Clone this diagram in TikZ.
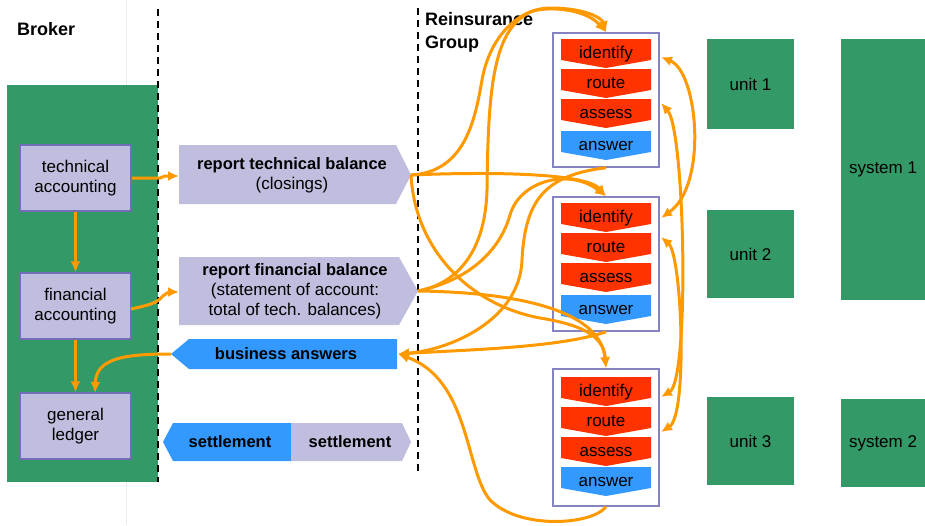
\documentclass[tikz,border=0pt]{standalone}
\usepackage{fontspec}
\setmainfont{Liberation Sans}
\usetikzlibrary{arrows.meta}
\definecolor{bgreen}{RGB}{51,153,102}
\definecolor{lav}{RGB}{192,190,222}
\definecolor{lavedge}{RGB}{112,110,182}
\definecolor{cred}{RGB}{255,51,0}
\definecolor{cblue}{RGB}{51,153,255}
\definecolor{corange}{RGB}{255,153,0}
\tikzset{
  txt/.style={font=\fontsize{17}{20}\selectfont, align=center, inner sep=0pt},
  btxt/.style={font=\bfseries\fontsize{16.5}{20}\selectfont, align=center, inner sep=0pt},
  head/.style={font=\bfseries\fontsize{18}{23}\selectfont, align=left, inner sep=0pt},
  accbox/.style={draw=lavedge, line width=1.5pt, fill=lav, minimum width=111pt, minimum height=66pt, inner sep=0pt, txt},
  pbox/.style={draw=lavedge!85, line width=1.5pt, fill=white, minimum width=106pt, inner sep=0pt},
  gbox/.style={fill=bgreen, inner sep=0pt, txt},
  flow/.style={draw=corange, line width=3pt, -{Latex[length=11pt,width=10pt]}},
  dflow/.style={draw=corange, line width=3pt, {Latex[length=11pt,width=10pt]}-{Latex[length=11pt,width=10pt]}},
  divider/.style={line width=1.8pt, dash pattern=on 7pt off 5pt},
  chevtext/.style={font=\fontsize{17}{20}\selectfont, inner sep=0pt, anchor=base}
}
\newcommand\mychev[4]{%
  \fill[#2] (561,#1) -- (651,#1) -- (651,#1+21) -- (606,#1+29) -- (561,#1+21) -- cycle;
  \node[chevtext] (#4) at (606,#1+19) {#3};}
\begin{document}
\begin{tikzpicture}[x=1pt,y=-1pt]
\useasboundingbox (0,0) rectangle (925,525);
\fill[white] (0,0) rectangle (925,525);
% faint guide and broker area
\draw[black!8, line width=1pt] (126,0) -- (126,525);
\fill[bgreen] (7,85) rectangle (158,482);
\draw[divider] (158,9) -- (158,482);
\draw[divider] (418,8) -- (418,474);
% headers
\node[head, anchor=base west] (broker) at (17,35) {Broker};
\node[head, anchor=base west] (reins) at (425,25) {Reinsurance};
\node[head, anchor=base west] (group) at (425,48) {Group};
% broker boxes
\node[accbox] (tech) at (75.5,178) {technical\\accounting};
\node[accbox] (fin) at (75.5,306) {financial\\accounting};
\node[accbox] (gl) at (75.5,426) {general\\ledger};
% message shapes
\fill[lav] (179,145) -- (396,145) -- (411,175) -- (396,204) -- (179,204) -- cycle;
\coordinate (rtb) at (411,175);
\node[txt] (rtbt) at (292,175) {{\bfseries\fontsize{16.5}{20}\selectfont report technical balance}\\(closings)};
\fill[lav] (179,257) -- (399,257) -- (418,291) -- (399,325) -- (179,325) -- cycle;
\coordinate (rfb) at (418,291);
\node[txt] (rfbt) at (295,291) {{\bfseries\fontsize{16.5}{20}\selectfont report financial balance}\\(statement of account:\\total of tech. balances)};
\fill[cblue] (171,354) -- (189,339) -- (397,339) -- (397,369) -- (189,369) -- cycle;
\coordinate (ba) at (398,354);
\coordinate (bal) at (171,354);
\node[btxt] (bat) at (286,354) {business answers};
\fill[cblue] (163,442) -- (173,423) -- (291,423) -- (291,461) -- (173,461) -- cycle;
\fill[lav] (291,423) -- (402,423) -- (411,442) -- (402,461) -- (291,461) -- cycle;
\node[btxt] (s1) at (230,442) {settlement};
\node[btxt] (s2) at (350,442) {settlement};
% process boxes
\node[pbox, minimum height=134pt] (p1) at (606,100) {};
\node[pbox, minimum height=134pt] (p2) at (606,264) {};
\node[pbox, minimum height=137pt] (p3) at (606,437.5) {};
\mychev{39}{cred}{identify}{id1}
\mychev{69}{cred}{route}{ro1}
\mychev{99}{cred}{assess}{as1}
\mychev{131}{cblue}{answer}{an1}
\mychev{203}{cred}{identify}{id2}
\mychev{233}{cred}{route}{ro2}
\mychev{263}{cred}{assess}{as2}
\mychev{295}{cblue}{answer}{an2}
\mychev{377}{cred}{identify}{id3}
\mychev{407}{cred}{route}{ro3}
\mychev{437}{cred}{assess}{as3}
\mychev{467}{cblue}{answer}{an3}
% units and systems
\node[gbox, minimum width=87pt, minimum height=90pt] (u1) at (750.5,84) {unit 1};
\node[gbox, minimum width=87pt, minimum height=88pt] (u2) at (750.5,254) {unit 2};
\node[gbox, minimum width=87pt, minimum height=88pt] (u3) at (750.5,441) {unit 3};
\node[gbox, minimum width=84pt, minimum height=261pt] (sy1) at (883,169.5) {system 1};
\node[gbox, minimum width=84pt, minimum height=88pt] (sy2) at (883,443) {system 2};
% connector end points at the process steps
\coordinate (e1) at (661,57);
\coordinate (e2) at (661,218);
\coordinate (e3) at (661,103);
\coordinate (e4) at (661,397);
\coordinate (e5) at (661,237);
\coordinate (e6) at (661,432);
% broker flows
\draw[flow] (tech.east) -- (160,178) -- (165,176) -- (179,176);
\draw[flow] (131,309) .. controls (150,305) and (155,303) .. (160,299) .. controls (165,293) and (170,292) .. (179,292);
\draw[flow] (tech.south) -- (fin.north);
\draw[flow] (fin.south) -- (gl.north);
\draw[flow] (bal) .. controls (125,354) and (96,358) .. (95,393);
% messages to process boxes
\draw[flow] (rtb) .. controls (465,172) and (475,120) .. (482,80) .. controls (490,35) and (520,8) .. (550,8) .. controls (585,8) and (602,18) .. (p1.north);
\draw[flow] (rfb) .. controls (450,285) and (485,260) .. (487,190) .. controls (488,80) and (495,30) .. (530,12) .. controls (545,6) and (585,8) .. (p1.north);
\draw[flow] (rtb) .. controls (480,172) and (585,172) .. (p2.north);
\draw[flow] (rfb) .. controls (470,280) and (500,250) .. (510,215) .. controls (520,180) and (570,168) .. (p2.north);
\draw[flow] (rtb) .. controls (415,250) and (470,305) .. (540,318) .. controls (590,326) and (604,340) .. (p3.north);
\draw[flow] (rfb) .. controls (500,292) and (600,305) .. (p3.north);
% answers back
\draw[flow] (p1.south) .. controls (545,175) and (525,200) .. (522,260) .. controls (520,320) and (450,350) .. (ba);
\draw[flow] (p2.south) .. controls (560,348) and (460,350) .. (ba);
\draw[flow] (p3.south) .. controls (592,525) and (520,530) .. (490,500) .. controls (465,470) and (470,380) .. (ba);
% links between process boxes
\draw[dflow] (e1) .. controls (698,72) and (708,185) .. (e2);
\draw[dflow] (e3) .. controls (685,130) and (690,380) .. (e4);
\draw[dflow] (e5) .. controls (682,255) and (688,415) .. (e6);
\end{tikzpicture}
\end{document}
